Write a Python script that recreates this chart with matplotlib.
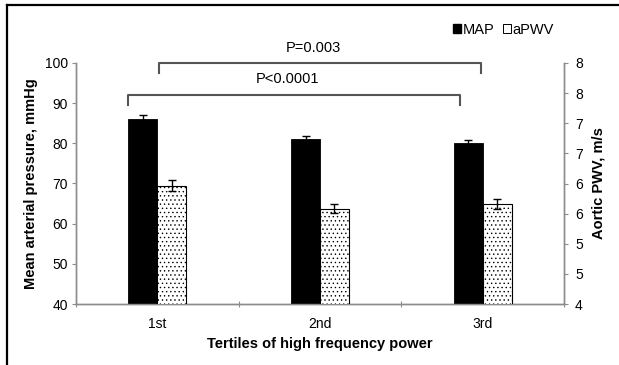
import matplotlib
matplotlib.use("Agg")
import matplotlib.pyplot as plt
from matplotlib.patches import Patch
from matplotlib.lines import Line2D
import numpy as np

plt.rcParams['font.family'] = ['Liberation Sans', 'DejaVu Sans']
plt.rcParams['hatch.linewidth'] = 0.5

categories = ["1st", "2nd", "3rd"]
map_values = [86.0, 81.1, 80.1]
map_err = [1.0, 0.75, 0.85]
apwv_values = [5.96, 5.58, 5.66]
apwv_err = [0.09, 0.075, 0.083]
left_ticks = [40, 50, 60, 70, 80, 90, 100]
right_ticks = [4, 4.5, 5, 5.5, 6, 6.5, 7, 7.5, 8]
right_tick_labels = ["4", "5", "5", "6", "6", "7", "7", "8", "8"]
brackets = [("P<0.0001", 0.318, 2.36, 92.0, 89.5, 96.0),
            ("P=0.003", 0.51, 2.488, 100.0, 97.5, 103.7)]

fig = plt.figure(figsize=(6.19, 3.65), dpi=100)
ax = fig.add_axes([76/619, 1-304/365, 488/619, 241/365])
ax2 = ax.twinx()

x = np.arange(len(categories)) + 0.5
w = 0.178
gray = '#8c8c8c'

ax.bar(x - w/2, map_values, width=w, color='black', edgecolor='black', linewidth=0.6,
       yerr=map_err, error_kw=dict(ecolor='black', elinewidth=1, capsize=3, capthick=1), zorder=3)
ax2.bar(x + w/2, apwv_values, width=w, color='white', edgecolor='black', linewidth=0.8,
        hatch='....', yerr=apwv_err,
        error_kw=dict(ecolor='black', elinewidth=1, capsize=3, capthick=1), zorder=3)

ax.set_xlim(0, 3)
ax.set_ylim(40, 100)
ax2.set_ylim(4, 8)
ax.set_yticks(left_ticks)
ax.set_yticklabels([str(t) for t in left_ticks], fontsize=10)
ax2.set_yticks(right_ticks)
ax2.set_yticklabels(right_tick_labels, fontsize=10)

ax.set_xticks([0, 1, 2, 3])
ax.set_xticklabels([])
ax.set_xticks(x, minor=True)
ax.set_xticklabels(categories, minor=True, fontsize=10)
ax.tick_params(axis='x', which='minor', length=0, pad=9)
ax.tick_params(axis='x', which='major', length=4, direction='inout', color=gray, width=0.8)
ax.tick_params(axis='y', length=3, color=gray, width=0.8, pad=3)
ax2.tick_params(axis='y', length=3, color=gray, width=0.8, pad=5)

for a in (ax, ax2):
    a.spines['top'].set_visible(False)
    for s in ('left', 'right', 'bottom'):
        a.spines[s].set_color(gray)
        a.spines[s].set_linewidth(1.0)

ax.set_ylabel("Mean arterial pressure, mmHg", fontsize=10.5, fontweight='bold', labelpad=5)
ax2.set_ylabel("Aortic PWV, m/s", fontsize=10.5, fontweight='bold', labelpad=6)
ax.set_xlabel("Tertiles of high frequency power", fontsize=10.5, fontweight='bold', labelpad=5)

bcol = '#555555'
for label, x0, x1, ytop, ybot, ytext in brackets:
    ax.plot([x0, x0, x1, x1], [ybot, ytop, ytop, ybot], color=bcol, lw=1.5,
            clip_on=False, zorder=4, solid_joinstyle='round')
    ax.text((x0 + x1) / 2 - 0.04, ytext, label, ha='center', va='center', fontsize=10.5)

handles = [Patch(facecolor='black', edgecolor='black'),
           Patch(facecolor='white', edgecolor='black', linewidth=0.7)]
fig.legend(handles, ["MAP", "aPWV"], loc='center right', bbox_to_anchor=(561/619, 1-30/365),
           ncol=2, frameon=False, fontsize=10.5, handlelength=0.55, handleheight=0.55,
           handletextpad=0.1, columnspacing=0.6, borderpad=0)

# figure frame (left and top)
fig.add_artist(Line2D([7/619, 7/619], [0, 1-5/365], color='black', lw=1.6, transform=fig.transFigure))
fig.add_artist(Line2D([7/619, 1], [1-5/365, 1-5/365], color='black', lw=1.6, transform=fig.transFigure))

fig.savefig("out.png", dpi=100)
